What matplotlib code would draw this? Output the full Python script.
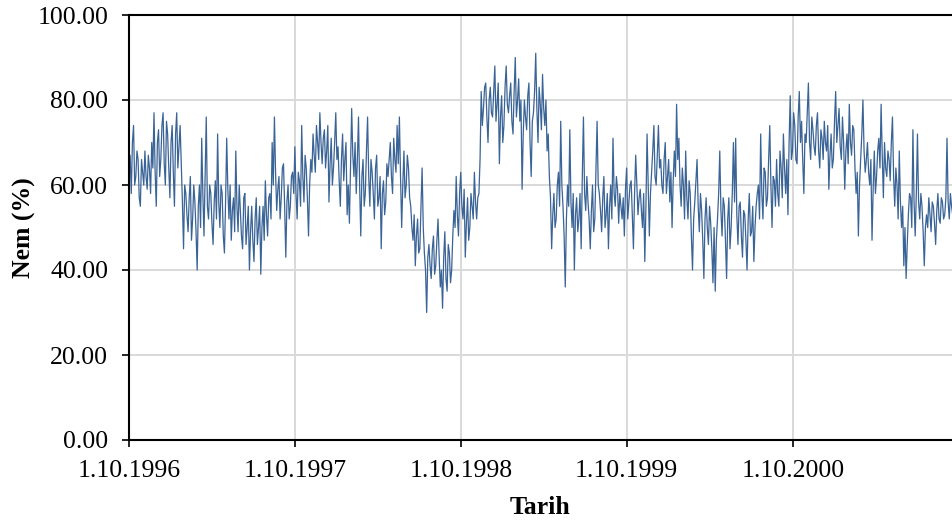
import matplotlib
matplotlib.use("Agg")
import matplotlib.pyplot as plt
import pandas as pd

# humidity, one list per water year (Oct-Sep).
# "a" lists are readings every 5 days from 1.10.1996, "b" lists the readings
# that fall half way between them (2.5 days later)
nem_96_97_a = [64, 58, 74, 62, 66, 55, 63, 68, 59, 64,
               70, 77, 55, 73, 66, 77, 60, 72, 57, 74, 55, 77, 69,
               65, 45,
               58, 49, 62, 52, 56, 40, 60, 71, 48, 76, 52, 58, 46, 61,
               72, 50, 58, 44, 71, 52, 47, 57, 68, 49, 54, 45, 58, 50, 40, 55,
               42, 57, 50, 39, 55, 61, 48, 58, 70, 76, 54, 62, 57, 65, 43, 60, 55, 63]
nem_96_97_b = [67, 70, 60, 68, 57, 66, 60, 62, 67, 58,
               64, 63, 70, 62, 74, 65, 75, 64, 70, 63, 72, 64, 74,
               56, 60,
               53, 57, 47, 60, 49, 55, 50, 58, 62, 55, 60, 51, 56, 52,
               56, 60, 48, 56, 59, 60, 54, 49, 55, 60, 48, 57, 46, 55, 49, 47,
               52, 46, 55, 50, 47, 53, 57, 52, 60, 63, 59, 52, 64, 55, 56, 52, 62, 58]

nem_97_98_a = [69, 52, 61, 74, 56, 64, 48,
               66, 72, 63, 70, 77, 65, 73, 68, 56, 71, 64, 77, 69, 55, 72, 66, 53, 51, 78, 62, 58,
               76, 48, 66, 58, 76, 55, 63, 52, 67, 57, 45, 61, 56,
               62, 70, 58, 66, 74, 76, 50, 68, 60, 64,
               55, 47, 41, 52, 45, 64, 44, 30,
               46, 38, 48, 41, 52, 36, 31, 49, 35, 44, 40,
               54, 62, 48]
nem_97_98_b = [58, 63, 55, 62, 67, 57, 60,
               63, 67, 74, 66, 70, 71, 64, 74, 65, 60, 70, 66, 61, 66, 61, 70, 60, 64, 67, 70, 66,
               60, 62, 55, 68, 62, 66, 58, 64, 55, 62, 58, 53, 65,
               66, 62, 71, 63, 65, 62, 60, 57, 67, 57,
               50, 53, 48, 44, 55, 50, 40, 43,
               41, 45, 39, 47, 43, 40, 43, 38, 46, 37, 48,
               50, 53, 58]

nem_98_99_a = [63, 52, 43, 57, 50, 55, 63, 52, 58,
               82, 78, 84, 70, 83, 76, 88, 79, 65, 81, 74, 88, 77, 84, 72, 90, 80, 75,
               59, 80, 73, 84, 62, 77, 91, 70, 79, 86, 74, 68, 62,
               45, 58, 52, 63, 75, 55, 36, 60, 73, 50, 40, 57, 52, 45, 76, 54,
               56, 45, 60, 52, 75, 58, 49, 62, 53, 45, 60, 71, 55, 59,
               58, 52, 48]
nem_98_99_b = [55, 59, 51, 47, 58, 52, 56, 57, 66,
               74, 83, 76, 80, 77, 82, 75, 84, 76, 70, 83, 79, 81, 75, 82, 76, 85, 80,
               72, 76, 81, 70, 75, 82, 78, 83, 73, 78, 80, 72, 57,
               53, 50, 60, 55, 60, 48, 52, 55, 56, 58, 53, 49, 58, 62, 58, 62,
               52, 54, 49, 63, 60, 54, 57, 50, 58, 55, 52, 58, 62, 51,
               55, 57, 59]

nem_99_00_a = [64, 56, 61, 45, 67, 53, 59, 50, 42, 72,
               48, 63, 74, 60, 74, 66, 58, 70, 62, 56, 50, 68, 79,
               71, 55, 60, 68, 52, 58, 40, 56, 66, 49, 54, 38, 57, 46, 51, 37, 35,
               52, 68, 48, 55, 38, 57, 50, 70, 71, 46, 56, 43, 53, 40, 58, 49,
               42, 55, 60, 72, 52, 63, 57, 74, 50, 61, 66, 55, 64, 72, 58, 53, 81]
nem_99_00_b = [52, 60, 53, 58, 60, 57, 54, 58, 55, 60,
               58, 68, 62, 67, 64, 60, 66, 58, 66, 63, 61, 62, 66,
               60, 64, 52, 57, 61, 48, 52, 61, 55, 58, 47, 52, 50, 55, 45, 50, 47,
               58, 54, 57, 47, 52, 45, 58, 56, 53, 55, 48, 54, 47, 52, 48, 55,
               50, 58, 52, 58, 64, 55, 66, 60, 62, 55, 58, 68, 57, 64, 66, 70, 66]

nem_00_01_a = [68, 74, 65, 82,
               75, 58, 70, 84, 66,
               73, 67, 77, 64, 71, 75, 68, 59, 72, 66, 82, 74, 69, 76, 59, 72, 79, 67, 73,
               58, 48, 66, 80, 63, 70, 60, 47, 68, 62, 71, 79, 57, 64, 68, 61,
               76, 55, 60, 68, 50, 41, 38, 53, 57, 73, 48, 72, 52, 55, 41,
               53, 57, 49, 55, 46, 58, 51, 56, 53, 71, 52, 55]
nem_00_01_b = [77, 66, 76, 70,
               66, 72, 77, 70, 76,
               69, 74, 68, 73, 66, 70, 74, 67, 64, 75, 70, 78, 66, 70, 68, 65, 70, 74, 64,
               63, 60, 72, 68, 66, 63, 66, 59, 58, 68, 64, 67, 70, 62, 66, 70,
               62, 64, 52, 56, 55, 50, 46, 58, 50, 56, 58, 56, 58, 49, 50,
               50, 53, 56, 51, 54, 52, 57, 52, 57, 56, 58, 53]

tick_dates = ["1996-10-01", "1997-10-01", "1998-10-01", "1999-10-01", "2000-10-01"]
tick_labels = ["1.10.1996", "1.10.1997", "1.10.1998", "1.10.1999", "1.10.2000"]
y_ticks = [0, 20, 40, 60, 80, 100]

nem_a = nem_96_97_a + nem_97_98_a + nem_98_99_a + nem_99_00_a + nem_00_01_a
nem_b = nem_96_97_b + nem_97_98_b + nem_98_99_b + nem_99_00_b + nem_00_01_b
nem = []
for a, b in zip(nem_a, nem_b):
    nem += [a, b]
tarih = pd.date_range("1996-10-01", periods=len(nem), freq="60h")

plt.rcParams["font.family"] = ["Liberation Serif", "DejaVu Serif"]

fig = plt.figure(figsize=(9.52, 5.26), dpi=100)
ax = fig.add_axes([129 / 952, 86 / 526, 823 / 952, 425 / 526])

ax.plot(tarih, nem, color="#3a6396", lw=0.9)

ax.set_ylim(0, 100)
ax.set_yticks(y_ticks)
ax.set_yticklabels(["%.2f" % v for v in y_ticks])
ax.set_xlim(pd.Timestamp("1996-10-01"), pd.Timestamp("2001-09-16"))
ax.set_xticks(pd.to_datetime(tick_dates))
ax.set_xticklabels(tick_labels)

ax.grid(True, color="#d9d9d9", lw=1.4)
ax.set_axisbelow(True)
for s in ["left", "bottom", "top"]:
    ax.spines[s].set_linewidth(1.5)
ax.spines["right"].set_visible(False)
ax.tick_params(axis="both", direction="out", length=5, width=1.2, labelsize=18.5)
ax.tick_params(axis="y", pad=10)
ax.tick_params(axis="x", pad=9.5)

ax.set_ylabel("Nem (%)", fontsize=18.5, fontweight="bold", labelpad=1)
ax.set_xlabel("Tarih", fontsize=18.5, fontweight="bold", labelpad=10)

fig.savefig("out.png", dpi=100)
